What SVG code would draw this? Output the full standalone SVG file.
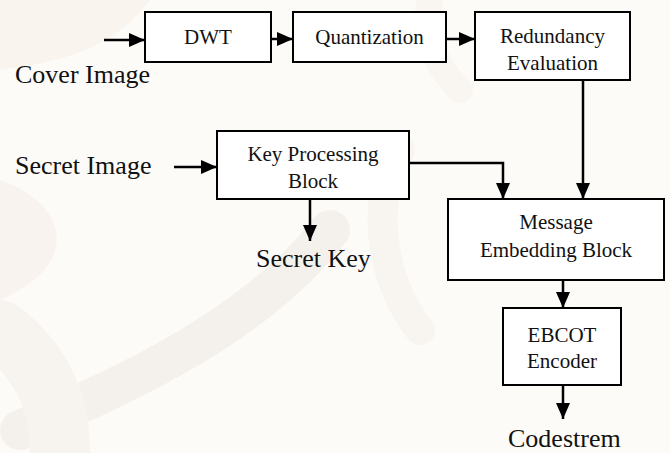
<svg xmlns="http://www.w3.org/2000/svg" width="670" height="453" viewBox="0 0 670 453">
  <defs>
    <marker id="arr" markerUnits="userSpaceOnUse" markerWidth="16" markerHeight="14" refX="16" refY="7" orient="auto">
      <path d="M0,0 L16,7 L0,14 z" fill="#000"/>
    </marker>
  </defs>
  <style>
    .box { fill: #fff; stroke: #000; stroke-width: 2; }
    text { font-family: 'Liberation Serif', 'DejaVu Serif', serif; fill: #111; }
    .bt { font-size: 21px; text-anchor: middle; }
    .lbl { font-size: 26px; }
    .con { fill: none; stroke: #000; stroke-width: 2.5; marker-end: url(#arr); }
    .wm { fill: none; stroke-linecap: round; }
  </style>
  <rect width="670" height="453" fill="#fdfbf8"/>
  <g id="watermark" opacity="0.3">
    <path d="M0,0 H150 C120,40 80,60 0,70 Z" fill="#f6e6dc"/>
    <path d="M0,180 C60,200 90,260 0,300 Z" fill="#f0e4dc"/>
    <path class="wm" d="M20,430 C140,380 260,320 330,230" stroke="#e2dcd6" stroke-width="40"/>
    <path class="wm" d="M0,330 C40,360 60,400 60,453" stroke="#ebe3dc" stroke-width="60"/>
    <path class="wm" d="M420,330 C380,280 370,200 400,150" stroke="#efe7df" stroke-width="30"/>
    <path class="wm" d="M460,90 C440,70 420,40 430,0" stroke="#f3ece3" stroke-width="26"/>
  </g>
  <g id="connectors">
    <path class="con" d="M104,40 H145"/>
    <path class="con" d="M271,39 H293"/>
    <path class="con" d="M446,39 H475"/>
    <path class="con" d="M583,80 V199"/>
    <path class="con" d="M174,167 H217"/>
    <path class="con" d="M409,163 H503 V199"/>
    <path class="con" d="M310,199 V241"/>
    <path class="con" d="M563,280 V308"/>
    <path class="con" d="M563,385 V419"/>
  </g>
  <g id="dwt">
    <rect class="box" x="145" y="12" width="126" height="50"/>
    <text class="bt" x="208" y="44" font-family="Liberation Serif, serif">DWT</text>
  </g>
  <g id="quantization">
    <rect class="box" x="293" y="12" width="153" height="50"/>
    <text class="bt" x="369.5" y="44">Quantization</text>
  </g>
  <g id="redundancy">
    <rect class="box" x="475" y="12" width="155" height="68"/>
    <text class="bt" x="552.5" y="43">Redundancy</text>
    <text class="bt" x="552.5" y="70">Evaluation</text>
  </g>
  <g id="keyproc">
    <rect class="box" x="217" y="131" width="192" height="68"/>
    <text class="bt" x="313" y="161">Key Processing</text>
    <text class="bt" x="313" y="188">Block</text>
  </g>
  <g id="message">
    <rect class="box" x="448" y="199" width="216" height="81"/>
    <text class="bt" x="556" y="229">Message</text>
    <text class="bt" x="556" y="257">Embedding Block</text>
  </g>
  <g id="ebcot">
    <rect class="box" x="503" y="308" width="118" height="77"/>
    <text class="bt" x="562" y="342">EBCOT</text>
    <text class="bt" x="562" y="368">Encoder</text>
  </g>
  <g id="labels">
    <text class="lbl" x="15" y="83">Cover Image</text>
    <text class="lbl" x="15" y="174">Secret Image</text>
    <text class="lbl" x="256" y="267">Secret Key</text>
    <text class="lbl" x="508" y="447">Codestrem</text>
  </g>
</svg>
